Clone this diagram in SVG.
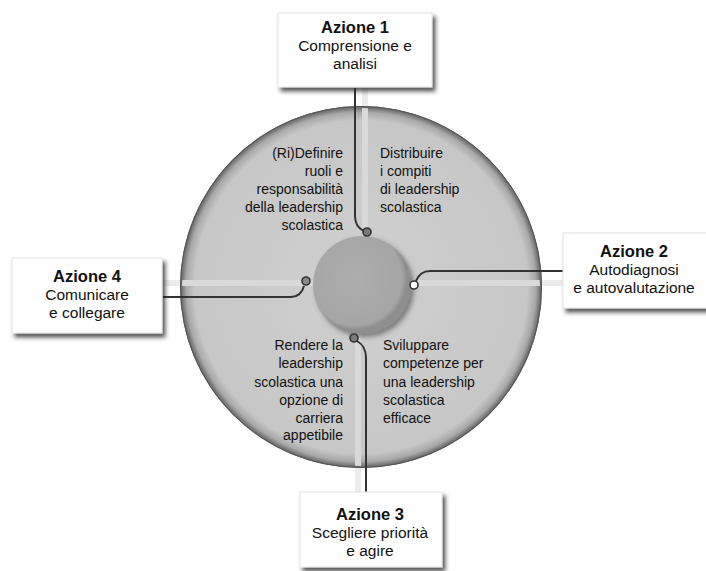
<svg xmlns="http://www.w3.org/2000/svg" width="706" height="571" viewBox="0 0 706 571">
  <defs>
    <radialGradient id="disc" cx="361" cy="287" r="181" gradientUnits="userSpaceOnUse">
      <stop offset="0" stop-color="#d0d0d0"/>
      <stop offset="0.92" stop-color="#c7c7c7"/>
      <stop offset="0.965" stop-color="#a9a9a9"/>
      <stop offset="1" stop-color="#5e5e5e"/>
    </radialGradient>
    <radialGradient id="hub" cx="355" cy="278" r="52" gradientUnits="userSpaceOnUse">
      <stop offset="0" stop-color="#adadad"/>
      <stop offset="0.9" stop-color="#a6a6a6"/>
      <stop offset="1" stop-color="#8e8e8e"/>
    </radialGradient>
    <clipPath id="discClip">
      <circle cx="361" cy="287" r="179"/>
    </clipPath>
    <filter id="shadow" x="-10%" y="-10%" width="130%" height="140%">
      <feDropShadow dx="3" dy="4" stdDeviation="2" flood-color="#222" flood-opacity="0.75"/>
    </filter>
    <filter id="hubShadow" x="-20%" y="-20%" width="150%" height="150%">
      <feDropShadow dx="3" dy="3" stdDeviation="2.5" flood-color="#444" flood-opacity="0.6"/>
    </filter>
  </defs>
  <style>
    .box { fill: #ffffff; stroke: #e4e4e4; stroke-width: 1; filter: url(#shadow); }
    .title { font-family: "Liberation Sans", Arial, sans-serif; font-size: 16.5px; font-weight: bold; fill: #111; text-anchor: middle; }
    .body { font-family: "Liberation Sans", Arial, sans-serif; font-size: 15.5px; fill: #111; text-anchor: middle; }
    .q { font-family: "Liberation Sans", Arial, sans-serif; font-size: 14px; fill: #111; }
    .qr { text-anchor: end; }
    .band { stroke-width: 6; fill: none; }
    .band-out { stroke: #ececec; }
    .band-in { stroke: #d9d9d9; }
    .link { stroke: #333; stroke-width: 2; fill: none; }
    .dot { stroke: #333; stroke-width: 1.6; }
  </style>

  <rect width="706" height="571" fill="#ffffff"/>

  <!-- faint cross bands outside the disc -->
  <g id="bands-outer">
    <line class="band band-out" x1="365" y1="88" x2="365" y2="236"/>
    <line class="band band-out" x1="358" y1="334" x2="358" y2="492"/>
    <line class="band band-out" x1="163" y1="283" x2="313" y2="283"/>
    <line class="band band-out" x1="411" y1="283" x2="563" y2="283"/>
  </g>

  <!-- outer disc -->
  <g id="disc-group">
    <circle cx="361" cy="287" r="181" fill="url(#disc)"/>
    <circle cx="361" cy="287" r="180.5" fill="none" stroke="#555" stroke-width="1"/>
  </g>

  <!-- lighter bands across the disc -->
  <g id="bands-inner" clip-path="url(#discClip)">
    <line class="band band-in" x1="365" y1="88" x2="365" y2="236"/>
    <line class="band band-in" x1="358" y1="334" x2="358" y2="492"/>
    <line class="band band-in" x1="163" y1="283" x2="313" y2="283"/>
    <line class="band band-in" x1="411" y1="283" x2="563" y2="283"/>
  </g>

  <g id="hub-node">
    <circle cx="362" cy="285" r="49" fill="url(#hub)" filter="url(#hubShadow)"/>
  </g>

  <!-- quadrant labels -->
  <g id="q-top-left">
    <text class="q qr" x="343" y="158">(Ri)Definire</text>
    <text class="q qr" x="343" y="176">ruoli e</text>
    <text class="q qr" x="343" y="194">responsabilità</text>
    <text class="q qr" x="343" y="212">della leadership</text>
    <text class="q qr" x="343" y="230">scolastica</text>
  </g>
  <g id="q-top-right">
    <text class="q" x="380" y="158">Distribuire</text>
    <text class="q" x="380" y="176">i compiti</text>
    <text class="q" x="380" y="194">di leadership</text>
    <text class="q" x="380" y="212">scolastica</text>
  </g>
  <g id="q-bottom-left">
    <text class="q qr" x="343" y="350">Rendere la</text>
    <text class="q qr" x="343" y="368">leadership</text>
    <text class="q qr" x="343" y="387">scolastica una</text>
    <text class="q qr" x="343" y="405">opzione di</text>
    <text class="q qr" x="343" y="423">carriera</text>
    <text class="q qr" x="343" y="440">appetibile</text>
  </g>
  <g id="q-bottom-right">
    <text class="q" x="383" y="350">Sviluppare</text>
    <text class="q" x="383" y="368">competenze per</text>
    <text class="q" x="383" y="387">una leadership</text>
    <text class="q" x="383" y="405">scolastica</text>
    <text class="q" x="383" y="423">efficace</text>
  </g>

  <!-- connectors from the action boxes to the hub -->
  <g id="connectors">
    <path class="link" d="M355,88 V216 Q355,227 364,231"/>
    <circle class="dot" cx="367" cy="232" r="4" fill="#7a7a7a"/>
    <path class="link" d="M163,297 H291 Q301,297 304,286"/>
    <circle class="dot" cx="306" cy="281" r="4" fill="#8a8a8a"/>
    <path class="link" d="M563,271 H430 Q420,271 416,281"/>
    <circle class="dot" cx="414" cy="285" r="4" fill="#ffffff"/>
    <path class="link" d="M357,341 Q366,346 366,358 V492"/>
    <circle class="dot" cx="354" cy="338" r="4" fill="#7a7a7a"/>
  </g>

  <!-- action boxes -->
  <g id="azione-1">
    <rect class="box" x="278" y="13" width="154" height="74"/>
    <text class="title" x="355" y="33">Azione 1</text>
    <text class="body" x="355" y="51">Comprensione e</text>
    <text class="body" x="355" y="69">analisi</text>
  </g>
  <g id="azione-2">
    <rect class="box" x="563" y="233" width="150" height="75"/>
    <text class="title" x="634" y="257">Azione 2</text>
    <text class="body" x="634" y="275">Autodiagnosi</text>
    <text class="body" x="634" y="293">e autovalutazione</text>
  </g>
  <g id="azione-3">
    <rect class="box" x="300" y="492" width="142" height="75"/>
    <text class="title" x="370" y="520">Azione 3</text>
    <text class="body" x="370" y="538">Scegliere priorità</text>
    <text class="body" x="370" y="556">e agire</text>
  </g>
  <g id="azione-4">
    <rect class="box" x="12" y="258" width="150" height="75"/>
    <text class="title" x="87" y="282">Azione 4</text>
    <text class="body" x="87" y="300">Comunicare</text>
    <text class="body" x="87" y="318">e collegare</text>
  </g>
</svg>
